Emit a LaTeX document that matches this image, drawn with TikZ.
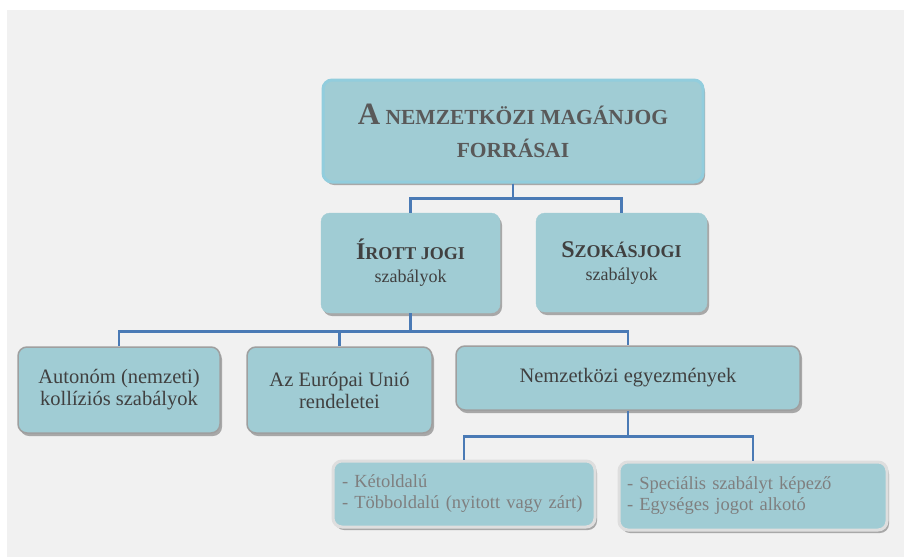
\documentclass[tikz,border=0pt]{standalone}
\usepackage{fontspec}
\setmainfont{Liberation Serif}
\usetikzlibrary{shadows}

\definecolor{boxfill}{RGB}{160,204,212}
\definecolor{topedge}{RGB}{146,205,221}
\definecolor{linkblue}{RGB}{74,122,181}
\definecolor{panelgray}{RGB}{241,241,241}
\definecolor{darktext}{RGB}{64,64,64}
\definecolor{titletext}{RGB}{89,89,89}
\definecolor{lighttext}{RGB}{127,127,127}

\begin{document}
\begin{tikzpicture}
                    [x=1pt,y=-1pt,
                     box/.style={rounded corners=9pt,fill=boxfill,align=center,inner sep=0pt,
                       drop shadow={shadow xshift=2pt,shadow yshift=-3pt,fill=black,opacity=0.3}},
                     head/.style={box,draw=boxfill,text=darktext,font=\fontsize{18}{23}\selectfont},
                     level/.style={box,draw=gray!75,line width=1.5pt,text=darktext,
                       font=\fontsize{20.5}{22}\selectfont},
                     listbox/.style={box,draw=black!13,line width=3pt,text=lighttext,align=left,
                       font=\fontsize{18.5}{21}\selectfont},
                     link/.style={draw=linkblue,line width=2.8pt}]

                    % panel
                    \fill[white] (0,0) rectangle (904,557);
                    \fill[panelgray] (7,10) rectangle (904,557);
                    \useasboundingbox (0,0) rectangle (904,557);

                    \node[box,draw=topedge,line width=3pt,text=titletext,
                          font=\bfseries\fontsize{21.5}{33}\selectfont,
                          minimum width=380pt,minimum height=102pt] (forras) at (513,131)
                         {{\fontsize{31}{33}\selectfont A} NEMZETKÖZI MAGÁNJOG\\ FORRÁSAI};

                    \node[head,minimum width=179pt,minimum height=100pt] (irott) at (410.5,263)
                         {\textbf{{\fontsize{24}{23}\selectfont Í}ROTT JOGI}\\ szabályok};
                    \node[head,minimum width=171pt,minimum height=99pt] (szokas) at (621.5,262.5)
                         {\textbf{{\fontsize{24}{23}\selectfont S}ZOKÁSJOGI}\\ szabályok};

                    \node[level,minimum width=202pt,minimum height=86pt] (auton) at (119,390)
                         {Autonóm (nemzeti)\\ kollíziós szabályok};
                    \node[level,minimum width=185pt,minimum height=86pt] (unio) at (339.5,390)
                         {Az Európai Unió\\ rendeletei};
                    \node[level,minimum width=344pt,minimum height=64pt] (egyezm) at (628,378)
                         {Nemzetközi egyezmények};

                    \node[listbox,text width=244pt,inner xsep=9pt,minimum height=66pt] (ketold) at (464,494)
                         {- Kétoldalú\\ - Többoldalú (nyitott vagy zárt)};
                    \node[listbox,text width=252pt,inner xsep=8pt,minimum height=68pt] (spec) at (753,496)
                         {- Speciális szabályt képező\\ - Egységes jogot alkotó};

                    % connectors
                    \draw[link] (forras.south) -- ++(0,15) -| (irott.north);
                    \draw[link] (forras.south) -- ++(0,15) -| (szokas.north);
                    \draw[link] (irott.south) -- ++(0,18) -| (auton.north);
                    \draw[link] (irott.south) -- ++(0,18) -| (unio.north);
                    \draw[link] (irott.south) -- ++(0,18) -| (egyezm.north);
                    \draw[link] (egyezm.south) -- ++(0,26) -| (ketold.north);
                    \draw[link] (egyezm.south) -- ++(0,26) -| (spec.north);
                \end{tikzpicture}
\end{document}
